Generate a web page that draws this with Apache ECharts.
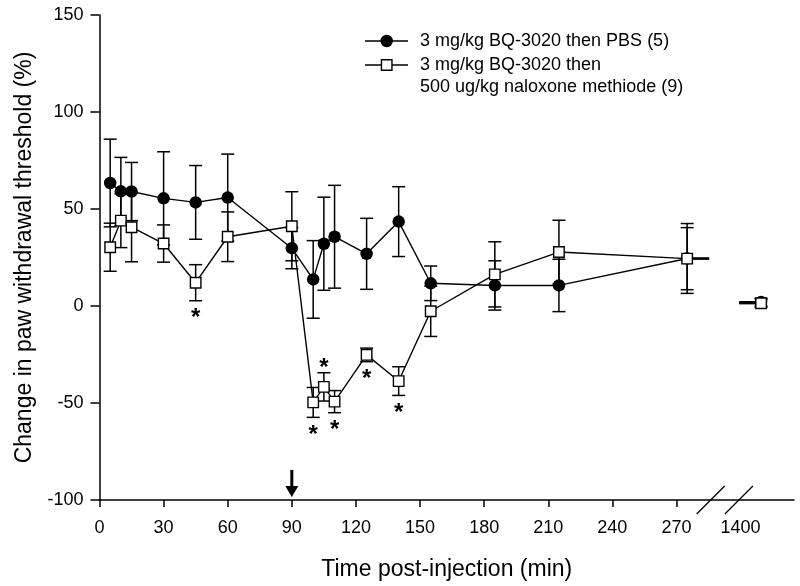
<!DOCTYPE html>
<html><head><meta charset="utf-8">
<script src="https://cdn.jsdelivr.net/npm/echarts@6/dist/echarts.min.js"></script>
<style>html,body{margin:0;padding:0;background:#fff}#c{width:800px;height:586px}</style>
</head><body><div id="c"></div>
<script>
// ---- data ----
const times   = [5, 10, 15, 30, 45, 60, 90, 100, 105, 110, 125, 140, 155, 185, 215, 275, 1440];
const pbsMean = [63.4, 59.1, 59.0, 55.5, 53.4, 55.9, 29.8, 13.7, 32.1, 35.7, 26.9, 43.5, 11.7, 10.6, 10.6, 24.5, 2.0];
const pbsErr  = [22.6, 17.5, 15.0, 24.0, 19.0, 22.4, 10.6, 20.0, 24.0, 26.5, 18.3, 18.0, 8.9, 12.7, 13.5, 18.0, 2.0];
const naxMean = [30.3, 44.0, 40.6, 32.2, 12.0, 35.7, 41.1, -49.7, -41.7, -49.3, -25.2, -38.7, -2.7, 16.3, 27.8, 24.4, 1.4];
const naxErr  = [12.4, 13.9, 17.8, 9.6, 9.3, 12.8, 17.8, 7.7, 7.3, 5.7, 3.5, 7.4, 13.0, 16.8, 16.4, 16.0, 2.0];
const xTickLabels = ['0', '30', '60', '90', '120', '150', '180', '210', '240', '270', '1400'];
const yTicks = [-100, -50, 0, 50, 100, 150];
const starTimes = [45, 100, 105, 110, 125, 140];
const starSide  = ['below', 'below', 'above', 'below', 'below', 'below'];
const seriesNames = ['3 mg/kg BQ-3020 then PBS (5)', '3 mg/kg BQ-3020 then\n500 ug/kg naloxone methiode (9)'];
const arrowTime = 90;

// ---- broken x axis mapping ----
const BREAK_AFTER = 280;
const POST_T = 1400, POST_X = 300, POST_SCALE = 0.24;
const BREAK_MARKS = [286, 299.2];
function xPos(t) { return t <= BREAK_AFTER ? t : POST_X + (t - POST_T) * POST_SCALE; }

const FONT = '"Liberation Sans", Arial, sans-serif';
const labelPos = xTickLabels.map(l => xPos(Number(l)));
const tickPos = xTickLabels.filter(l => Number(l) <= BREAK_AFTER).map(l => xPos(Number(l)));
const labelMap = {};
xTickLabels.forEach(l => { labelMap[xPos(Number(l))] = l; });

function lineData(mean) {
  const d = [];
  times.forEach((t, i) => {
    if (i > 0 && times[i - 1] <= BREAK_AFTER && t > BREAK_AFTER) d.push('-');
    d.push([xPos(t), mean[i]]);
  });
  return d;
}

function errSeries(mean, err, z) {
  return {
    type: 'custom', z: z, silent: true,
    data: times.map((t, i) => [xPos(t), mean[i], err[i]]),
    encode: { x: 0, y: 1 },
    renderItem(params, api) {
      const x = api.value(0), m = api.value(1), e = api.value(2);
      const top = api.coord([x, m + e]), bot = api.coord([x, m - e]);
      const hw = 6.5, st = { stroke: '#000', lineWidth: 1.5 };
      return { type: 'group', children: [
        { type: 'line', shape: { x1: top[0], y1: top[1], x2: bot[0], y2: bot[1] }, style: st },
        { type: 'line', shape: { x1: top[0] - hw, y1: top[1], x2: top[0] + hw, y2: top[1] }, style: st },
        { type: 'line', shape: { x1: bot[0] - hw, y1: bot[1], x2: bot[0] + hw, y2: bot[1] }, style: st }
      ]};
    }
  };
}

const starData = starTimes.map((t, k) => {
  const i = times.indexOf(t);
  const below = starSide[k] === 'below';
  return [xPos(t), below ? naxMean[i] - naxErr[i] : naxMean[i] + naxErr[i], below ? 1 : -1];
});

const chart = echarts.init(document.getElementById('c'), null, { renderer: 'canvas' });
chart.setOption({
  animation: false,
  backgroundColor: '#fff',
  textStyle: { fontFamily: FONT },
  grid: { left: 99.5, right: 6, top: 15, bottom: 85, containLabel: false },
  xAxis: {
    type: 'value', min: 0, max: 325,
    name: 'Time post-injection (min)', nameLocation: 'middle', nameGap: 58,
    nameTextStyle: { fontSize: 23, color: '#000', fontFamily: FONT },
    axisLine: { show: true, onZero: false, lineStyle: { color: '#000', width: 1.5 } },
    axisTick: { show: true, inside: false, length: 7, customValues: tickPos, lineStyle: { color: '#000', width: 1.5 } },
    axisLabel: { show: true, customValues: labelPos, margin: 19, fontSize: 18, color: '#000', fontFamily: FONT,
      formatter: v => labelMap[v] !== undefined ? labelMap[v] : '' },
    splitLine: { show: false }
  },
  yAxis: {
    type: 'value', min: -100, max: 150, interval: 50,
    name: 'Change in paw withdrawal threshold (%)', nameLocation: 'middle', nameGap: 63,
    nameTextStyle: { fontSize: 23, color: '#000', fontFamily: FONT },
    axisLine: { show: true, lineStyle: { color: '#000', width: 1.5 } },
    axisTick: { show: true, inside: false, length: 9, lineStyle: { color: '#000', width: 1.5 } },
    axisLabel: { margin: 16, fontSize: 18, color: '#000', fontFamily: FONT },
    splitLine: { show: false }
  },
  series: [
    errSeries(pbsMean, pbsErr, 1),
    errSeries(naxMean, naxErr, 1),
    { name: seriesNames[0], type: 'line', z: 3, data: lineData(pbsMean), connectNulls: false,
      symbol: 'circle', symbolSize: 12.5, showSymbol: true,
      lineStyle: { color: '#000', width: 1.4 }, itemStyle: { color: '#000', borderColor: '#000', borderWidth: 0 } },
    { name: seriesNames[1], type: 'line', z: 4, data: lineData(naxMean), connectNulls: false,
      symbol: 'rect', symbolSize: 10.5, showSymbol: true,
      lineStyle: { color: '#000', width: 1.4 }, itemStyle: { color: '#fff', borderColor: '#000', borderWidth: 1.4 } },
    { type: 'custom', z: 5, silent: true, data: starData, encode: { x: 0, y: 1 },
      renderItem(params, api) {
        const p = api.coord([api.value(0), api.value(1)]);
        const dir = api.value(2);
        return { type: 'text', x: p[0], y: p[1] + (dir > 0 ? 18 : -4),
          style: { text: '*', fontSize: 24, fontWeight: 'bold', fontFamily: FONT, fill: '#000', align: 'center', verticalAlign: 'middle' } };
      } }
  ]
});

// ---- annotations: break marks, arrow, stubs, legend ----
const g = [];
const axisY = chart.convertToPixel({ gridIndex: 0 }, [0, -100])[1];
BREAK_MARKS.forEach(b => {
  const px = chart.convertToPixel({ gridIndex: 0 }, [b, -100])[0];
  g.push({ type: 'line', shape: { x1: px - 14, y1: axisY + 14, x2: px + 14, y2: axisY - 14 }, style: { stroke: '#000', lineWidth: 1.3 }, z: 10 });
});
const ax = chart.convertToPixel({ gridIndex: 0 }, [xPos(arrowTime), -100])[0];
g.push({ type: 'rect', shape: { x: ax - 1.5, y: axisY - 30, width: 3, height: 18 }, style: { fill: '#000' }, z: 10 });
g.push({ type: 'polygon', shape: { points: [[ax - 6.5, axisY - 14], [ax + 6.5, axisY - 14], [ax, axisY - 3]] }, style: { fill: '#000' }, z: 10 });
// line continuation stubs across break
const iPre = times.findIndex(t => t > BREAK_AFTER) - 1, iPost = iPre + 1;
[pbsMean, naxMean].forEach(m => {
  const a = chart.convertToPixel({ gridIndex: 0 }, [xPos(times[iPre]), m[iPre]]);
  const b = chart.convertToPixel({ gridIndex: 0 }, [xPos(times[iPost]), m[iPost]]);
  g.push({ type: 'line', shape: { x1: a[0], y1: a[1], x2: a[0] + 22, y2: a[1] }, style: { stroke: '#000', lineWidth: 2.2 }, z: 2 });
  g.push({ type: 'line', shape: { x1: b[0] - 22, y1: b[1], x2: b[0], y2: b[1] }, style: { stroke: '#000', lineWidth: 2.2 }, z: 2 });
});
// legend
const lx1 = 365, lx2 = 408, lc = 386.7, tx = 420;
g.push({ type: 'line', shape: { x1: lx1, y1: 41, x2: lx2, y2: 41 }, style: { stroke: '#000', lineWidth: 1.4 } });
g.push({ type: 'circle', shape: { cx: lc, cy: 41, r: 6.2 }, style: { fill: '#000' } });
g.push({ type: 'text', x: tx, y: 41, style: { text: seriesNames[0], fontSize: 18, fontFamily: FONT, fill: '#000', verticalAlign: 'middle', align: 'left' } });
g.push({ type: 'line', shape: { x1: lx1, y1: 65, x2: lx2, y2: 65 }, style: { stroke: '#000', lineWidth: 1.4 } });
g.push({ type: 'rect', shape: { x: lc - 5.25, y: 65 - 5.25, width: 10.5, height: 10.5 }, style: { fill: '#fff', stroke: '#000', lineWidth: 1.4 } });
const nlines = seriesNames[1].split('\n');
nlines.forEach((s, k) => {
  g.push({ type: 'text', x: tx, y: 65 + k * 22, style: { text: s, fontSize: 18, fontFamily: FONT, fill: '#000', verticalAlign: 'middle', align: 'left' } });
});
chart.setOption({ graphic: g });
</script>
</body></html>
